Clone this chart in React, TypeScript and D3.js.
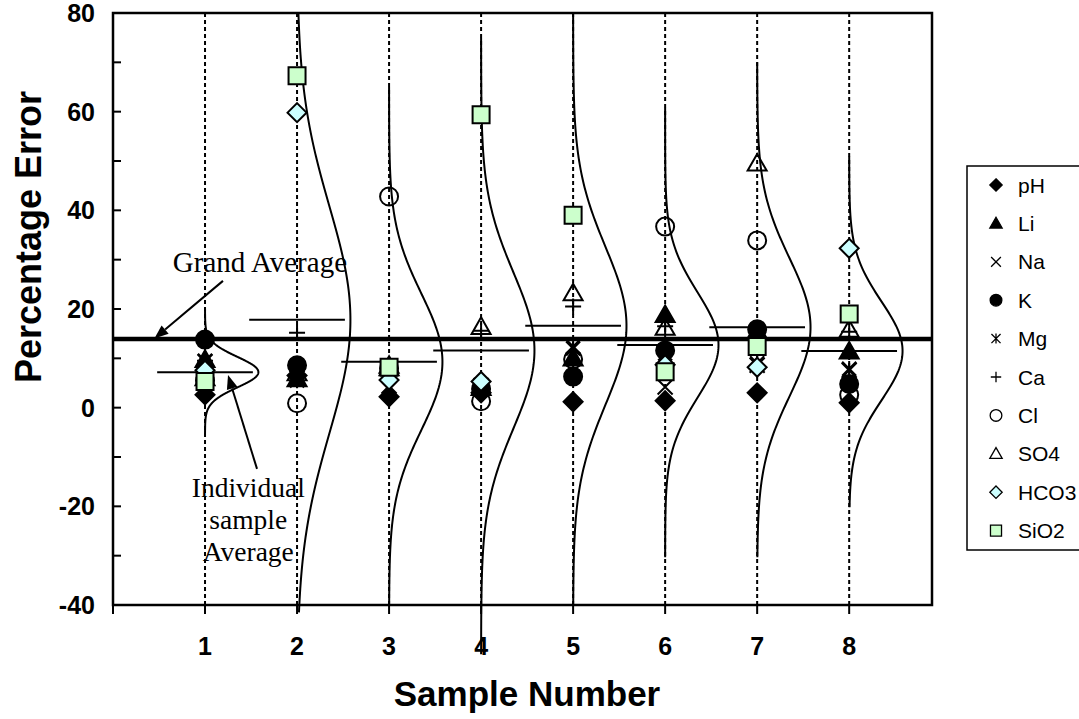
import React from 'react';
import * as d3 from 'd3';

// sample numbers on the x axis
const samples = [1, 2, 3, 4, 5, 6, 7, 8];

// percentage error of each analyte, per sample
const pH = [2.6, 6.5, 2.2, 3.0, 1.2, 1.4, 3.0, 1.0];
const Li = [9.7, 5.8, 8.5, 4.0, 10.0, 18.8, 15.5, 11.4];
const Na = [9.3, 6.0, 4.4, 4.5, 12.4, 4.2, 8.6, 7.6];
const K = [13.8, 8.6, 8.0, 3.8, 6.3, 11.6, 15.9, 4.8];
const Mg = [9.5, 5.5, 7.5, 4.2, 12.0, 11.0, 9.0, 7.9];
const Ca = [9.5, 15.2, 8.5, 15.6, 20.5, 16.5, 15.0, 15.4];
const Cl = [5.5, 0.9, 42.8, 1.3, 9.8, 36.7, 33.9, 2.6];
const SO4 = [6.0, 7.0, 8.0, 16.4, 23.2, 16.2, 49.5, 15.8];
const HCO3 = [7.6, 59.8, 5.6, 5.3, null, 8.7, 8.2, 32.3];
const SiO2 = [5.3, 67.3, 8.2, 59.4, 39.0, 7.3, 12.4, 19.0];

// individual sample average / spread, and where each bell curve starts and ends
const sampleAverage = [7.2, 17.8, 9.3, 11.6, 16.6, 12.7, 16.3, 11.5];
const sampleStdDev = [3.1, 23, 13.8, 15.8, 16, 10.7, 14, 10];
const curveTop = [20.2, 80, 65, 75, 80, 60.8, 70, 50.9];
const curveBottom = [-5.2, -41.5, -40, -50, -40, -30.3, -30.3, -20.2];
const grandAverage = 13.9;

const yTicks = [-40, -20, 0, 20, 40, 60, 80];
const yMinorTicks = d3.range(-40, 81, 10);
const xTicks = [0, 1, 2, 3, 4, 5, 6, 7, 8];

const seriesNames = ['pH', 'Li', 'Na', 'K', 'Mg', 'Ca', 'Cl', 'SO4', 'HCO3', 'SiO2'];
const seriesValues = [pH, Li, Na, K, Mg, Ca, Cl, SO4, HCO3, SiO2];

// marker look for each series (same order as the names)
const markerStyle = [
  { shape: 'diamond', fill: '#000' },
  { shape: 'triangle', fill: '#000' },
  { shape: 'times', fill: 'none' },
  { shape: 'circle', fill: '#000' },
  { shape: 'asterisk', fill: 'none' },
  { shape: 'plus', fill: 'none' },
  { shape: 'circle', fill: 'none' },
  { shape: 'triangle', fill: 'none' },
  { shape: 'diamond', fill: '#ccffff' },
  { shape: 'square', fill: '#ccffcc' },
];

const markerPath = (shape: string, r: number) => {
  switch (shape) {
    case 'diamond':
      return `M0,${-r}L${r},0L0,${r}L${-r},0Z`;
    case 'triangle':
      return `M0,${-r}L${r},${r * 0.75}L${-r},${r * 0.75}Z`;
    case 'circle':
      return `M${r},0A${r},${r} 0 1,1 ${-r},0A${r},${r} 0 1,1 ${r},0Z`;
    case 'square':
      return `M${-r},${-r}H${r}V${r}H${-r}Z`;
    case 'times':
      return `M${-r},${-r}L${r},${r}M${-r},${r}L${r},${-r}`;
    case 'plus':
      return `M${-r},0H${r}M0,${-r}V${r}`;
    case 'asterisk':
      return `M${-r},${-r}L${r},${r}M${-r},${r}L${r},${-r}M0,${-r * 1.1}V${r * 1.1}`;
    default:
      return '';
  }
};

const markerRadius: Record<string, number> = {
  diamond: 9.5, triangle: 9.5, circle: 9, square: 8.5, times: 7.5, plus: 8, asterisk: 7,
};

const FONT = "'Liberation Sans', Arial, sans-serif";
const SERIF = "'Liberation Serif', 'Times New Roman', serif";

const Arrow = ({ x1, y1, x2, y2 }) => {
  const a = Math.atan2(y2 - y1, x2 - x1);
  const len = 14, half = 5.5;
  const bx = x2 - len * Math.cos(a), by = y2 - len * Math.sin(a);
  const p1 = [bx + half * Math.sin(a), by - half * Math.cos(a)];
  const p2 = [bx - half * Math.sin(a), by + half * Math.cos(a)];
  return (
    <g>
      <line x1={x1} y1={y1} x2={bx} y2={by} stroke="#000" strokeWidth={2} />
      <polygon points={`${x2},${y2} ${p1[0]},${p1[1]} ${p2[0]},${p2[1]}`} fill="#000" />
    </g>
  );
};

export default function App() {
  const width = 1079, height = 719;
  const x = d3.scaleLinear().domain([0, 8.9]).range([113, 932]);
  const y = d3.scaleLinear().domain([-40, 80]).range([605, 13]);
  const [x0, x1] = x.range();
  const [yb, yt] = y.range();

  const curvePeak = 0.58; // peak of each bell curve, in sample units
  const halfAvg = 0.52;   // half length of the individual average bars

  const bell = d3.line<[number, number]>().x(d => x(d[0])).y(d => y(d[1]));
  const bellData = (i: number): [number, number][] =>
    d3.range(0, 201).map(k => {
      const v = curveTop[i] - (curveTop[i] - curveBottom[i]) * k / 200;
      const z = (v - sampleAverage[i]) / sampleStdDev[i];
      return [samples[i] + curvePeak * Math.exp(-0.5 * z * z), v];
    });

  const legendX = 967, legendY = 166, legendStep = 38.4;

  return (
    <div style={{ position: 'absolute', left: 0, top: 0 }}>
      <svg width={width} height={height} style={{ display: 'block', background: '#fff' }}>
        {/* sample guide lines */}
        {samples.map(s => (
          <line key={'g' + s} x1={x(s)} x2={x(s)} y1={yt} y2={yb}
            stroke="#000" strokeWidth={2} strokeDasharray="4 3" />
        ))}

        {/* axis tick labels */}
        {yTicks.map(t => (
          <text key={'yt' + t} x={95} y={y(t)} dy="0.36em" textAnchor="end"
            fontFamily={FONT} fontSize={25} fontWeight="bold">{t}</text>
        ))}
        {samples.map(s => (
          <text key={'xt' + s} x={x(s)} y={655} textAnchor="middle"
            fontFamily={FONT} fontSize={25} fontWeight="bold">{s}</text>
        ))}

        {/* bell curves */}
        {samples.map((s, i) => (
          <path key={'c' + s} d={bell(bellData(i)) || ''} fill="none" stroke="#000" strokeWidth={2} />
        ))}

        {/* individual sample averages */}
        {samples.map((s, i) => (
          <line key={'a' + s} x1={x(s - halfAvg)} x2={x(s + halfAvg)}
            y1={y(sampleAverage[i])} y2={y(sampleAverage[i])} stroke="#000" strokeWidth={2} />
        ))}

        {/* grand average */}
        <line x1={x0} x2={x1} y1={y(grandAverage)} y2={y(grandAverage)} stroke="#000" strokeWidth={4.5} />

        {/* frame and ticks */}
        <rect x={x0} y={yt} width={x1 - x0} height={yb - yt} fill="none" stroke="#000" strokeWidth={2.5} />
        {yMinorTicks.map(t => (
          <line key={'ym' + t} x1={x0} x2={x0 + 8} y1={y(t)} y2={y(t)} stroke="#000" strokeWidth={2} />
        ))}
        {xTicks.map(t => (
          <line key={'xm' + t} x1={x(t)} x2={x(t)} y1={yb} y2={yb + 9} stroke="#000" strokeWidth={2} />
        ))}

        {/* data markers */}
        {seriesValues.map((vals, si) => {
          const st = markerStyle[si];
          const d = markerPath(st.shape, markerRadius[st.shape]);
          return (
            <g key={'s' + si}>
              {vals.map((v, i) => v == null ? null : (
                <path key={i} d={d} transform={`translate(${x(samples[i])},${y(v)})`}
                  fill={st.fill} stroke="#000" strokeWidth={2} strokeLinejoin="miter" />
              ))}
            </g>
          );
        })}

        {/* annotations */}
        <text x={x(0.65)} y={y(27.6)} fontFamily={SERIF} fontSize={29}>Grand Average</text>
        <Arrow x1={x(1.195)} y1={y(25.7)} x2={x(0.45)} y2={y(14.0)} />
        <text textAnchor="middle" fontFamily={SERIF} fontSize={27.5}>
          <tspan x={x(1.47)} y={y(-18.1)}>Individual</tspan>
          <tspan x={x(1.47)} y={y(-24.6)}>sample</tspan>
          <tspan x={x(1.47)} y={y(-31.1)}>Average</tspan>
        </text>
        <Arrow x1={x(1.565)} y1={y(-12.4)} x2={x(1.25)} y2={y(6.6)} />

        {/* axis titles */}
        <text x={527} y={706} textAnchor="middle" fontFamily={FONT} fontSize={35} fontWeight="bold">Sample Number</text>
        <text transform={`translate(41,237) rotate(-90)`} textAnchor="middle" fontFamily={FONT}
          fontSize={36} fontWeight="bold">Percentage Error</text>

        {/* legend */}
        <rect x={legendX} y={legendY} width={160} height={legendStep * 10} fill="#fff" stroke="#000" strokeWidth={1.5} />
        {seriesNames.map((n, i) => {
          const st = markerStyle[i];
          const cy = legendY + 19 + i * legendStep;
          return (
            <g key={'l' + n}>
              <path d={markerPath(st.shape, markerRadius[st.shape] * 0.65)} transform={`translate(996,${cy})`}
                fill={st.fill} stroke="#000" strokeWidth={1.3} />
              <text x={1018} y={cy} dy="0.36em" fontFamily={FONT} fontSize={21}>{n}</text>
            </g>
          );
        })}
      </svg>
    </div>
  );
}
